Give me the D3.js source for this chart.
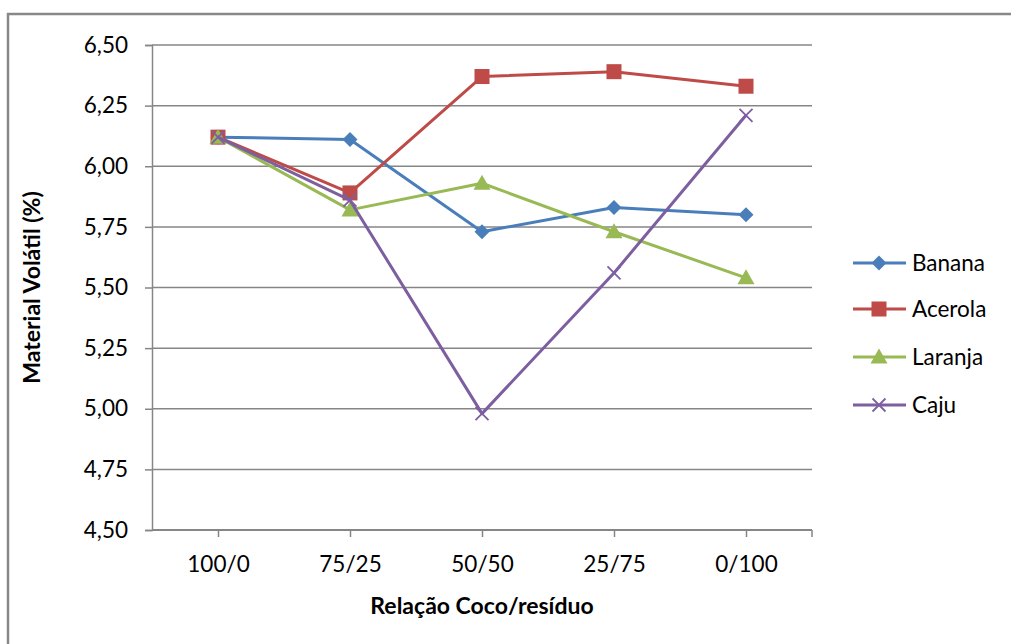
<!DOCTYPE html>
<html>
<head>
<meta charset="utf-8">
<script src="https://cdn.jsdelivr.net/npm/d3@7"></script>
<style>
  html, body { margin: 0; padding: 0; background: #fff; }
  svg { display: block; }
  text { font-family: Lato, "Open Sans", sans-serif; fill: #000; }
</style>
</head>
<body>
<svg id="chart" width="1011" height="644"></svg>
<script>
// Volatile matter (%) for each coconut/residue ratio
const categories = ["100/0", "75/25", "50/50", "25/75", "0/100"];
const banana  = [6.12, 6.11, 5.73, 5.83, 5.80];
const acerola = [6.12, 5.89, 6.37, 6.39, 6.33];
const laranja = [6.12, 5.82, 5.93, 5.73, 5.54];
const caju    = [6.12, 5.86, 4.98, 5.56, 6.21];
const seriesNames = ["Banana", "Acerola", "Laranja", "Caju"];
const yTicks = [4.50, 4.75, 5.00, 5.25, 5.50, 5.75, 6.00, 6.25, 6.50];

const series = [
  { name: seriesNames[0], values: banana,  color: "#4A7EBB", marker: "diamond" },
  { name: seriesNames[1], values: acerola, color: "#BE4B48", marker: "square" },
  { name: seriesNames[2], values: laranja, color: "#98B954", marker: "triangle" },
  { name: seriesNames[3], values: caju,    color: "#7D5FA0", marker: "x" }
];

const FONT = 22.5;
const TITLE_FONT = 23;
const svg = d3.select("#chart");
const plot = { left: 152, right: 812, top: 45, bottom: 530 };

// outer chart frame (top and left edges visible)
svg.append("path")
  .attr("d", "M8,644 L8,14 L1011,14")
  .attr("fill", "none").attr("stroke", "#888").attr("stroke-width", 2.5);

const x = d3.scalePoint().domain(categories)
  .range([plot.left, plot.right]).padding(0.5);
const y = d3.scaleLinear().domain([4.5, 6.5]).range([plot.bottom, plot.top]);

// horizontal gridlines
svg.append("g").selectAll("line").data(yTicks.slice(1)).join("line")
  .attr("x1", plot.left).attr("x2", plot.right)
  .attr("y1", d => y(d)).attr("y2", d => y(d))
  .attr("stroke", "#868686").attr("stroke-width", 1.5);

const fmt = d => d.toFixed(2).replace(".", ",");

// y axis
const yAxis = svg.append("g").attr("transform", `translate(${plot.left},0)`)
  .call(d3.axisLeft(y).tickValues(yTicks).tickFormat(fmt).tickSize(7).tickPadding(17));
yAxis.attr("font-size", null).attr("font-family", null);
yAxis.select(".domain").attr("stroke", "#868686").attr("stroke-width", 1.5);
yAxis.selectAll(".tick line").attr("stroke", "#868686").attr("stroke-width", 1.5);
yAxis.selectAll(".tick text").style("font-size", FONT + "px").attr("fill", "#000");

// x axis: ticks at each category plus the right edge
const xAxis = svg.append("g").attr("transform", `translate(0,${plot.bottom})`)
  .call(d3.axisBottom(x).tickSize(7).tickPadding(19).tickSizeOuter(0));
xAxis.attr("font-size", null).attr("font-family", null);
xAxis.select(".domain").attr("stroke", "#868686").attr("stroke-width", 2)
  .attr("d", `M${plot.left},0H${plot.right}`);
xAxis.selectAll(".tick line").attr("stroke", "#868686").attr("stroke-width", 1.5);
xAxis.selectAll(".tick text").style("font-size", FONT + "px").attr("fill", "#000");
xAxis.append("line").attr("x1", plot.right).attr("x2", plot.right)
  .attr("y1", 0).attr("y2", 7).attr("stroke", "#868686").attr("stroke-width", 1.5);

// axis titles
svg.append("text")
  .attr("transform", `translate(40,${(plot.top + plot.bottom) / 2}) rotate(-90)`)
  .attr("text-anchor", "middle").style("font-size", TITLE_FONT + "px").attr("font-weight", "bold")
  .text("Material Volátil (%)");
svg.append("text")
  .attr("x", (plot.left + plot.right) / 2).attr("y", 614)
  .attr("text-anchor", "middle").style("font-size", TITLE_FONT + "px").attr("font-weight", "bold")
  .text("Relação Coco/resíduo");

function drawMarker(g, type, cx, cy, color) {
  if (type === "diamond") {
    g.append("path").attr("d", `M${cx},${cy - 7.5}L${cx + 7.5},${cy}L${cx},${cy + 7.5}L${cx - 7.5},${cy}Z`)
      .attr("fill", color);
  } else if (type === "square") {
    g.append("rect").attr("x", cx - 7.5).attr("y", cy - 7.5).attr("width", 15).attr("height", 15)
      .attr("fill", color);
  } else if (type === "triangle") {
    g.append("path").attr("d", `M${cx},${cy - 8.5}L${cx + 8.5},${cy + 6.5}L${cx - 8.5},${cy + 6.5}Z`)
      .attr("fill", color);
  } else {
    g.append("path").attr("d", `M${cx - 6.5},${cy - 6.5}L${cx + 6.5},${cy + 6.5}M${cx + 6.5},${cy - 6.5}L${cx - 6.5},${cy + 6.5}`)
      .attr("stroke", color).attr("stroke-width", 1.8).attr("fill", "none");
  }
}

const line = d3.line().x((d, i) => x(categories[i])).y(d => y(d));

series.forEach(s => {
  const g = svg.append("g");
  g.append("path").datum(s.values).attr("d", line)
    .attr("fill", "none").attr("stroke", s.color).attr("stroke-width", 3)
    .attr("stroke-linejoin", "round");
  s.values.forEach((v, i) => drawMarker(g, s.marker, x(categories[i]), y(v), s.color));
});

// legend
const legendY = [263, 309, 357, 405];
series.forEach((s, i) => {
  const g = svg.append("g");
  const ly = legendY[i];
  g.append("line").attr("x1", 853).attr("x2", 906).attr("y1", ly).attr("y2", ly)
    .attr("stroke", s.color).attr("stroke-width", 3);
  drawMarker(g, s.marker, 879, ly, s.color);
  g.append("text").attr("x", 912).attr("y", ly + 8).style("font-size", FONT + "px").text(s.name);
});
</script>
</body>
</html>
